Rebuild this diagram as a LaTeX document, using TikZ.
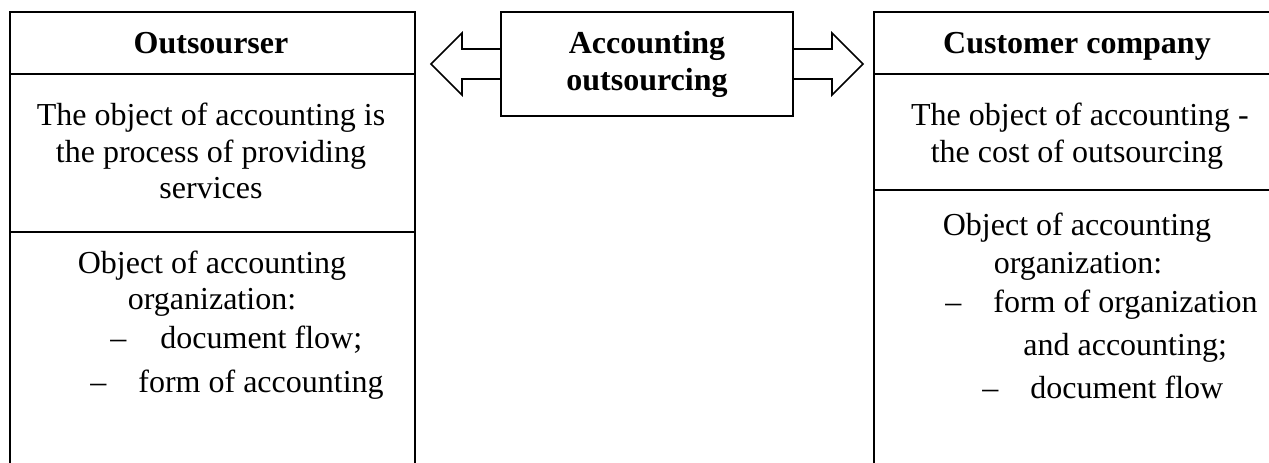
\documentclass[tikz,border=0pt]{standalone}
\usepackage{fontspec}
\setmainfont{Liberation Serif}
\begin{document}
\begin{tikzpicture}[x=0.5pt,y=-0.5pt,
  frame/.style={line width=0.8pt,black},
  txt/.style={inner sep=0pt,font=\fontsize{16pt}{18.5pt}\selectfont},
  head/.style={txt,font=\fontsize{16pt}{18.5pt}\selectfont\bfseries},
  ctxt/.style={txt,anchor=base},
  ltxt/.style={txt,anchor=base west}]
\useasboundingbox (0,0) rectangle (1269,462);
\clip (0,0) rectangle (1269,462);
% left box
\coordinate (ltl) at (10,12);
\coordinate (ltr) at (415,12);
\draw[frame] (10,480) -- (ltl) -- (ltr) -- (415,480);
\draw[frame] (10,74) -- (415,74);
\draw[frame] (10,232) -- (415,232);
% right box
\coordinate (rtl) at (874,12);
\draw[frame] (874,480) -- (rtl) -- (1290,12);
\draw[frame] (874,74) -- (1290,74);
\draw[frame] (874,190) -- (1290,190);
% center box
\node[frame,draw,minimum width=146pt,minimum height=52pt,inner sep=0pt] (ctr) at (647,64) {};
% arrows
\draw[frame,line join=miter] ([yshift=7.5pt]ctr.west) -- (462,49) -- (462,33) -- (431,64) -- (462,95) -- (462,79) -- ([yshift=-7.5pt]ctr.west);
\draw[frame,line join=miter] ([yshift=7.5pt]ctr.east) -- (832,49) -- (832,33) -- (863,64) -- (832,95) -- (832,79) -- ([yshift=-7.5pt]ctr.east);
% texts center
\node[head,anchor=base] (c1) at (647,53) {Accounting};
\node[head,anchor=base] (c2) at (647,90) {outsourcing};
% left texts
\node[head,anchor=base] (l0) at (211,53) {Outsourser};
\node[ctxt] (l1) at (211,125) {The object of accounting is};
\node[ctxt] (l2) at (211,162) {the process of providing};
\node[ctxt] (l3) at (211,198) {services};
\node[ctxt] (l4) at (212,273) {Object of accounting};
\node[ctxt] (l5) at (212,309) {organization:};
\node[ltxt] (l6d) at (110,348) {–};
\node[ltxt] (l6) at (160,348) {document flow;};
\node[ltxt] (l7d) at (90,392) {–};
\node[ltxt] (l7) at (138,392) {form of accounting};
% right texts
\node[head,anchor=base] (r0) at (1077,53) {Customer company};
\node[ctxt] (r1) at (1080,125) {The object of accounting -};
\node[ctxt] (r2) at (1077,162) {the cost of outsourcing};
\node[ctxt] (r3) at (1077,235) {Object of accounting};
\node[ctxt] (r4) at (1078,273) {organization:};
\node[ltxt] (r5d) at (945,312) {–};
\node[ltxt] (r5) at (993,312) {form of organization};
\node[ltxt] (r6) at (1023,355) {and accounting;};
\node[ltxt] (r7d) at (982,398) {–};
\node[ltxt] (r7) at (1030,398) {document flow};
\end{tikzpicture}
\end{document}
